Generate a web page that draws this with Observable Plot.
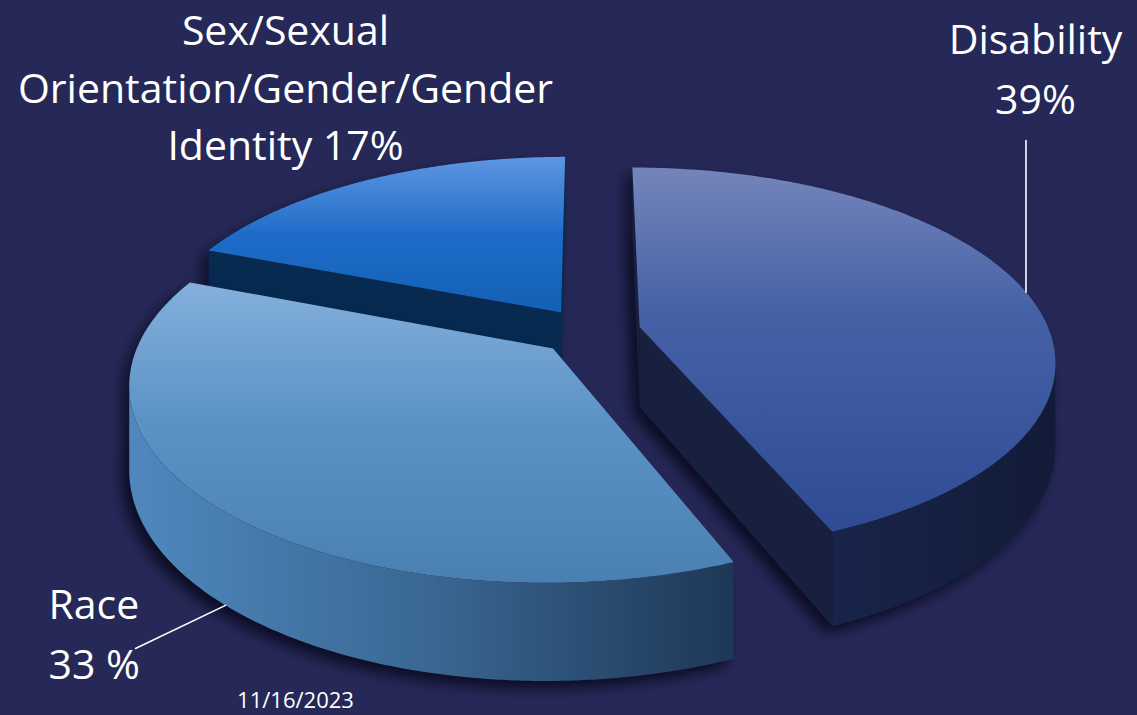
<!DOCTYPE html>
<html><head><meta charset="utf-8">
<script src="https://cdn.jsdelivr.net/npm/d3@7"></script>
<script src="https://cdn.jsdelivr.net/npm/@observablehq/plot@0.6"></script>
<style>html,body{margin:0;padding:0;background:#262857;overflow:hidden}</style>
</head><body><div id="chart"></div>
<script>
// ---- data ----
const categories = ["Disability", "Race", "Sex/Sexual Orientation/Gender/Gender Identity"];
const values = [39, 33, 17];
const labelTexts = ["Disability\n39%", "Race\n33 %", "Sex/Sexual\nOrientation/Gender/Gender\nIdentity 17%"];
const dateText = ["11/16/2023"];

// ---- layout / style (not data) ----
const W = 1137, H = 715;
const G = {cx: 589, cy: 331, rx: 410, ry: 188, p: 0.17, depth: 80, explode: 0.125};
const labelLayout = [
  {x: 1035, y: 64, anchor: "middle", lh: 1.46, lead: {drop: 0, shift: 0, x: null, y: 140}},
  {x: 48, y: 629, anchor: "start", lh: 1.46, lead: {drop: 1, shift: -2, x: 135, y: 648}},
  {x: 285, y: 84, anchor: "middle", lh: 1.40, lead: null}
];
const styles = [
  {top: "gDisTop", outer: "gDisWall", side: "#17213f"},
  {top: "gRaceTop", outer: "gRaceWall", side: "#1f3a58"},
  {top: "gSexTop", outer: "gSexWall", side: "#072a50"}
];
const drawOrder = [2, 0, 1];

// ---- geometry ----
const total = d3.sum(values);
let acc = 0;
const slices = categories.map((c, i) => {
  const a0 = acc / total * 2 * Math.PI; acc += values[i];
  const a1 = acc / total * 2 * Math.PI;
  const m = (a0 + a1) / 2;
  return {c, i, a0, a1, m, ou: G.explode * Math.sin(m), ov: -G.explode * Math.cos(m)};
});
function proj(u, v, drop) {
  const w = 1 / (1 - G.p * v);
  return {x: G.cx + G.rx * u * w, y: G.cy + G.ry * v * w + drop * G.depth * w};
}
function pt(s, a, r, drop) { return proj(s.ou + r * Math.sin(a), s.ov - r * Math.cos(a), drop); }
const camV = 1 / G.p;

function faces(s) {
  const N = 300;
  const arc = (drop) => d3.range(N + 1).map(k => pt(s, s.a0 + (s.a1 - s.a0) * k / N, 1, drop));
  const top = [pt(s, 0, 0, 0), ...arc(0)];
  const vis = d3.range(N + 1).map(k => s.a0 + (s.a1 - s.a0) * k / N)
    .filter(a => Math.sin(a) * (-s.ou) + (-Math.cos(a)) * (camV - s.ov) - 1 > 0);
  const walls = [];
  const camVec = [-s.ou, camV - s.ov];
  const n0 = [-Math.cos(s.a0), -Math.sin(s.a0)], n1 = [Math.cos(s.a1), Math.sin(s.a1)];
  const quad = (a) => [pt(s, a, 0, 0), pt(s, a, 1, 0), pt(s, a, 1, 1), pt(s, a, 0, 1)];
  if (n0[0] * camVec[0] + n0[1] * camVec[1] > 0) walls.push({pts: quad(s.a0), fill: styles[s.i].side});
  if (n1[0] * camVec[0] + n1[1] * camVec[1] > 0) walls.push({pts: quad(s.a1), fill: styles[s.i].side});
  if (vis.length > 1) {
    const t = vis.map(a => pt(s, a, 1, 0)), b = vis.map(a => pt(s, a, 1, 1)).reverse();
    walls.push({pts: [...t, ...b], fill: `url(#${styles[s.i].outer})`});
  }
  const bottom = [pt(s, 0, 0, 1), ...arc(1)];
  return {top, walls, bottom};
}

const marks = [];
for (const i of drawOrder) {
  const s = slices[i], f = faces(s);
  const shadowPts = [...f.top.map(p => ({...p, z: "t"})), ...f.bottom.map(p => ({...p, z: "b"})),
    ...f.walls.flatMap((w, k) => w.pts.map(p => ({...p, z: "w" + k})))];
  marks.push(Plot.line(shadowPts, {x: "x", y: "y", z: "z", fill: "#0b0c22", stroke: "none", fillOpacity: 0.85, dx: -7, dy: 7, ariaDescription: "shadow"}));
  for (const w of f.walls) marks.push(Plot.line(w.pts, {x: "x", y: "y", fill: w.fill, stroke: "none"}));
  marks.push(Plot.line(f.top, {x: "x", y: "y", fill: `url(#${styles[i].top})`, stroke: "none"}));
}

// leader lines
const leaders = [];
slices.forEach((s, i) => {
  const L = labelLayout[i].lead;
  if (!L) return;
  const a = pt(s, s.m + L.shift * Math.PI / 180, 1, L.drop);
  leaders.push({x: a.x, y: a.y, k: i}, {x: L.x == null ? a.x : L.x, y: L.y, k: i});
});
marks.push(Plot.line(leaders, {x: "x", y: "y", z: "k", stroke: "white", strokeWidth: 1.6}));

const labelData = slices.map((s, i) => ({text: labelTexts[i], ...labelLayout[i]}));
const font = "Open Sans, Lato, sans-serif";
for (const d of labelData) {
  marks.push(Plot.text([d], {x: "x", y: "y", text: "text", fill: "white", fontSize: 41, fontFamily: font, textAnchor: d.anchor, lineAnchor: "middle", lineHeight: d.lh}));
}
marks.push(Plot.text(dateText, {x: () => 295, y: () => 700, text: d => d, fill: "white", fontSize: 22, fontFamily: font, textAnchor: "middle"}));

const svg = Plot.plot({
  width: W, height: H, margin: 0,
  x: {domain: [0, W], range: [0, W], axis: null},
  y: {domain: [0, H], range: [0, H], axis: null},
  style: {background: "#262857", overflow: "visible"},
  marks
});

// gradients
const defs = d3.select(svg).insert("defs", ":first-child");
function grad(id, stops, horiz) {
  const g = defs.append("linearGradient").attr("id", id)
    .attr("x1", 0).attr("y1", 0).attr("x2", horiz ? 1 : 0).attr("y2", horiz ? 0 : 1);
  stops.forEach(([o, c]) => g.append("stop").attr("offset", o).attr("stop-color", c));
}
grad("gDisTop", [[0, "#7585bb"], [0.4, "#4661a6"], [1, "#2e4b94"]]);
grad("gDisWall", [[0, "#18244a"], [1, "#121b38"]], true);
grad("gRaceTop", [[0, "#84b0dc"], [0.45, "#5c93c6"], [1, "#4a7fb1"]]);
grad("gRaceWall", [[0, "#5088be"], [0.5, "#396792"], [1, "#1e3756"]], true);
grad("gSexTop", [[0, "#5e96e2"], [0.5, "#1e6cc8"], [1, "#1360b4"]]);
grad("gSexWall", [[0, "#0a3260"], [1, "#06264a"]], true);
d3.select(svg).selectAll("[aria-description=shadow]").style("filter", "blur(7px)");

document.getElementById("chart").appendChild(svg);
</script></body></html>
